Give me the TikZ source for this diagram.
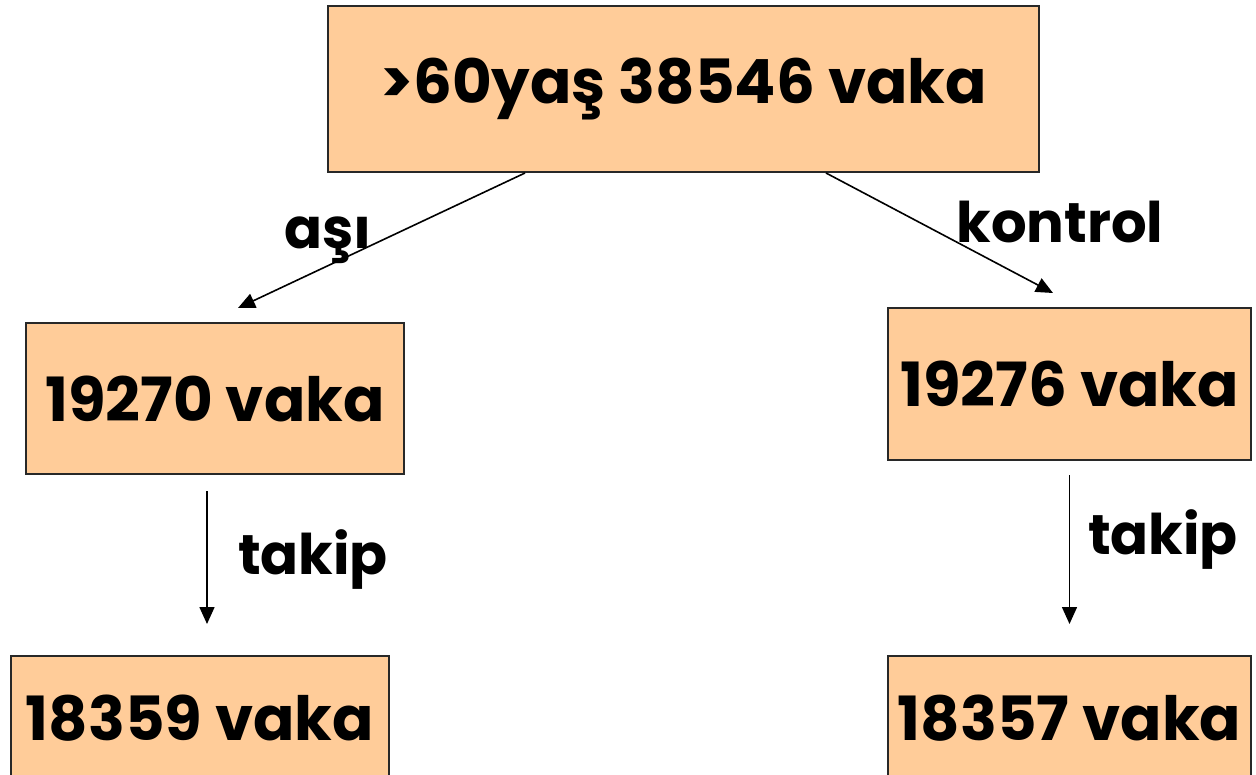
\documentclass[tikz,border=0pt]{standalone}
\usepackage{fontspec}
\setmainfont{Poppins}[BoldFont={* Bold}]
\usetikzlibrary{arrows.meta,positioning}
\definecolor{peach}{RGB}{255,204,153}
\definecolor{boxrule}{RGB}{40,40,40}
\tikzset{
  casebox/.style={fill=peach,draw=boxrule,line width=2pt,inner sep=0pt,
    align=center,font=\fontsize{61}{66}\selectfont\bfseries},
  flow/.style={draw=black,line width=1.6pt,-{Triangle[length=17pt,width=15pt]}},
  edgelabel/.style={font=\fontsize{56}{62}\selectfont\bfseries,inner sep=0pt}
}
\begin{document}
\begin{tikzpicture}[x=1pt,y=-1pt]
  \useasboundingbox[fill=white] (0,0) rectangle (1256,775);

  \node[casebox,minimum width=711pt,minimum height=166pt] (root) at (683.5,89) {>60yaş 38546 vaka};
  \node[casebox,minimum width=378pt,minimum height=151pt] (vaccine) at (215,398.5) {19270 vaka};
  \node[casebox,minimum width=363pt,minimum height=152pt] (control) at (1069.5,384) {19276 vaka};
  % lower boxes run past the bottom edge
  \node[casebox,minimum width=378pt,minimum height=124pt] (vacfollow) at (200,718) {18359 vaka};
  \node[casebox,minimum width=363pt,minimum height=124pt] (ctrlfollow) at (1069.5,718) {18357 vaka};

  % arrow tips stop short of the boxes
  \coordinate (vactip) at (238,308);
  \coordinate (ctrltip) at (1053,293);

  \draw[flow] ([xshift=-158.5pt]root.south) -- (vactip);
  \draw[flow] ([xshift=142.5pt]root.south) -- (ctrltip);
  \draw[flow] ([xshift=-8pt,yshift=-16pt]vaccine.south) -- ([xshift=7pt,yshift=31pt]vacfollow.north);
  \draw[flow] ([yshift=-14pt]control.south) -- ([yshift=31pt]ctrlfollow.north);

  \node[edgelabel] (vaclabel) at (328,240) {aşı};
  \node[edgelabel] (ctrllabel) at (1060,222) {kontrol};
  \node[edgelabel] (vactakip) at (313,560) {takip};
  \node[edgelabel] (ctrltakip) at (1163,540) {takip};
\end{tikzpicture}
\end{document}
